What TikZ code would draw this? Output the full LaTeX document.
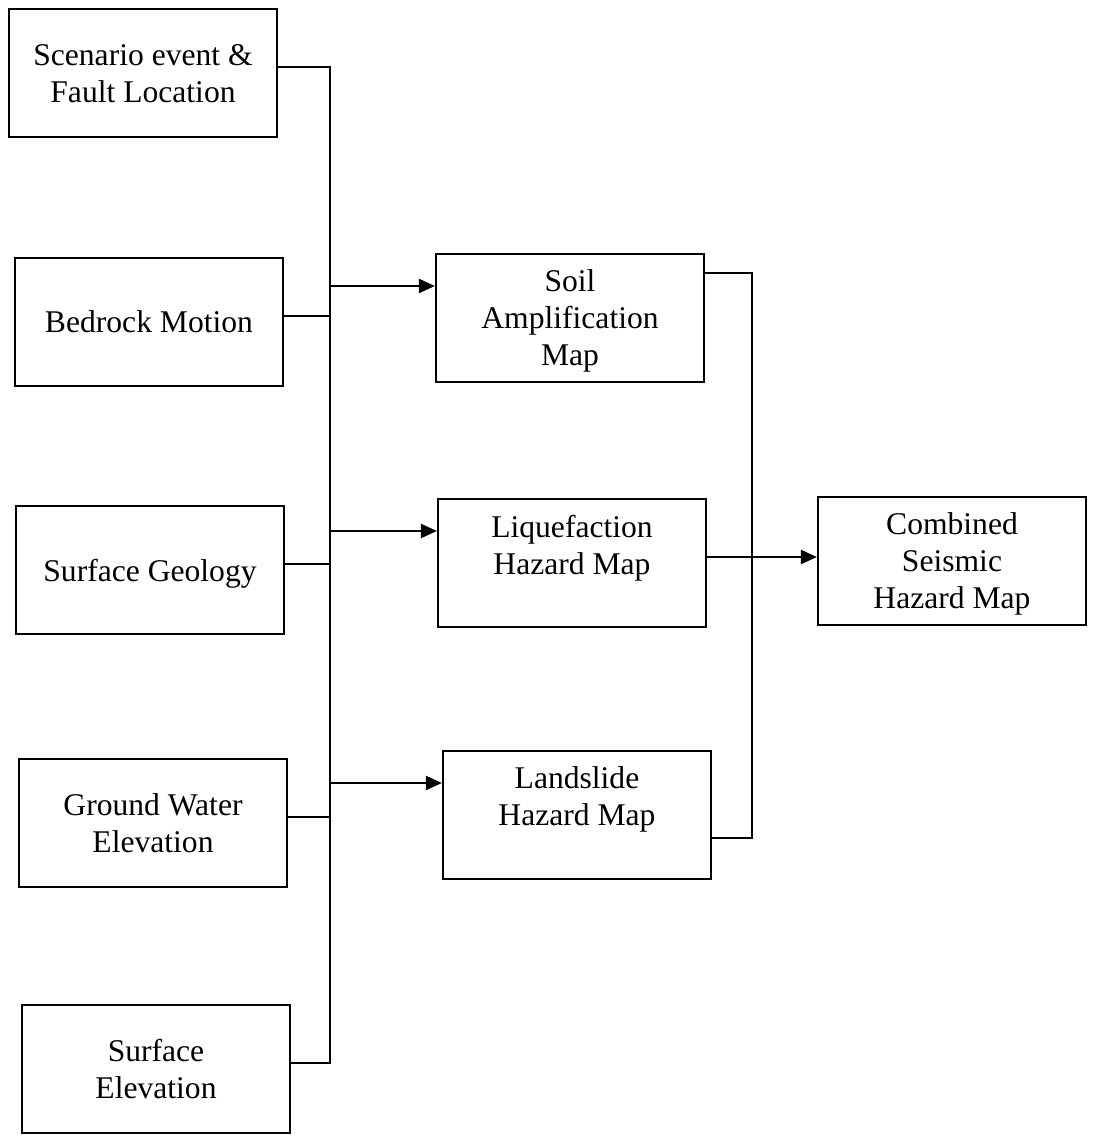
\documentclass[tikz,border=0pt]{standalone}
\usepackage{fontspec}
\setmainfont{Liberation Serif}
\usetikzlibrary{arrows.meta}
\begin{document}
\begin{tikzpicture}[x=0.5pt,y=-0.5pt,
  box/.style={draw, line width=1.1pt, minimum width=134pt, minimum height=64pt,
    inner sep=2pt, align=center, text depth=0pt, font=\fontsize{15.8}{18.5}\selectfont},
  conn/.style={line width=1.1pt},
  arr/.style={line width=1.1pt, -{Triangle[length=8pt,width=7pt]}}]
\useasboundingbox (0,0) rectangle (1096,1136);
% left column
\node[box] (scen)  at (143,73)   {Scenario event \&\\Fault Location};
\node[box] (bed)   at (149,322)  {Bedrock Motion};
\node[box] (sgeo)  at (150,570)  {Surface Geology};
\node[box] (gw)    at (153,823)  {Ground Water\\Elevation};
\node[box] (selev) at (156,1069) {Surface\\Elevation};
% middle column
\node[box] (soil)  at (570,318)  {Soil\\Amplification\\Map};
\node[box] (liq)   at (572,563)  {Liquefaction\\Hazard Map\\\mbox{}};
\node[box] (land)  at (577,815)  {Landslide\\Hazard Map\\\mbox{}};
% right
\node[box] (comb)  at (952,561)  {Combined\\Seismic\\Hazard Map};
% buses
\coordinate (lbus) at (330,0);
\coordinate (rbus) at (752,0);
% left bus
\draw[conn] ([yshift=3pt]scen.east) -- ([yshift=3pt]scen.east -| lbus)
  -- ([yshift=3pt]selev.east -| lbus) -- ([yshift=3pt]selev.east);
\draw[conn] ([yshift=3pt]bed.east) -- ([yshift=3pt]bed.east -| lbus);
\draw[conn] ([yshift=3pt]sgeo.east) -- ([yshift=3pt]sgeo.east -| lbus);
\draw[conn] ([yshift=3pt]gw.east) -- ([yshift=3pt]gw.east -| lbus);
% arrows to middle column
\draw[arr] ([yshift=16pt]soil.west -| lbus) -- ([yshift=16pt]soil.west);
\draw[arr] ([yshift=16pt]liq.west -| lbus) -- ([yshift=16pt]liq.west);
\draw[arr] ([yshift=16pt]land.west -| lbus) -- ([yshift=16pt]land.west);
% right bus
\draw[conn] ([yshift=22.5pt]soil.east) -- ([yshift=22.5pt]soil.east -| rbus)
  -- ([yshift=-11.5pt]land.east -| rbus) -- ([yshift=-11.5pt]land.east);
\draw[conn] ([yshift=3pt]liq.east) -- ([yshift=3pt]liq.east -| rbus);
\draw[arr] ([yshift=2pt]comb.west -| rbus) -- ([yshift=2pt]comb.west);
\end{tikzpicture}
\end{document}
